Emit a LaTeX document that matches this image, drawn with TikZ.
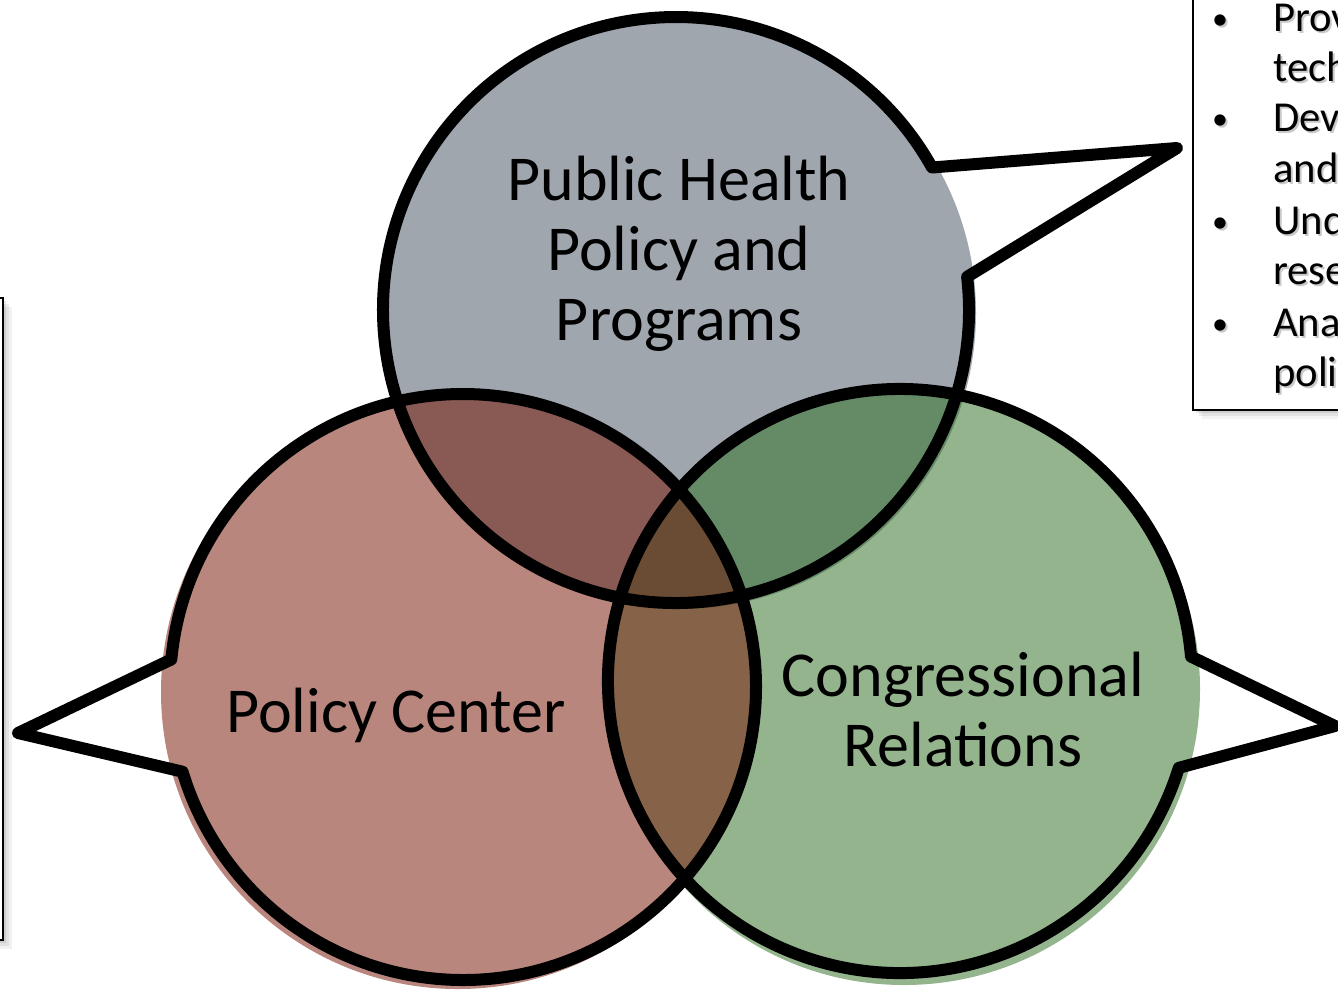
\documentclass[tikz,border=0pt]{standalone}
\usepackage{fontspec}
\setmainfont{Carlito}
\definecolor{cgray}{RGB}{159,166,174}
\definecolor{cred}{RGB}{185,134,126}
\definecolor{cgreen}{RGB}{148,180,142}
\definecolor{cRG}{RGB}{137,89,84}
\definecolor{cGN}{RGB}{100,138,102}
\definecolor{cRN}{RGB}{133,98,72}
\definecolor{cAll}{RGB}{106,76,52}
\tikzset{
  outline/.style={draw=black, line width=9pt, line join=round},
  biglabel/.style={font=\fontsize{48}{52}\selectfont, inner sep=0pt, anchor=base},
  boxtext/.style={font=\fontsize{32}{37}\selectfont, inner sep=0pt, anchor=base west},
  bullettext/.style={font=\fontsize{24}{28}\selectfont, inner sep=0pt, anchor=base},
  sidebox/.style={draw=black, line width=1.2pt, fill=white},
}
\begin{document}
\begin{tikzpicture}[x=0.75pt, y=-0.75pt]
\useasboundingbox (0,0) rectangle (1338,990);
% centres
\coordinate (G) at (676,310);
\coordinate (R) at (463,687);
\coordinate (N) at (900,681);
\coordinate (Gf) at (680,313);
\coordinate (Rf) at (458,692);
\coordinate (Nf) at (904,689);
% side boxes with soft shadows
\foreach \d/\o in {9/0.05,6/0.07,3/0.09}{
  \fill[black, opacity=\o] (1193+\d,-20) rectangle (1360,410+\d);
  \fill[black, opacity=\o] (-20,298+\d) rectangle (3+\d,940+\d);
}
\path[sidebox] (1193,-20) rectangle (1360,410);
\path[sidebox] (-20,298) rectangle (3,940);
% fills
\fill[cgray] (Gf) circle (296);
\fill[cred] (Rf) circle (297);
\fill[cgreen] (Nf) circle (296);
\begin{scope}
  \clip (Rf) circle (297);
  \fill[cRN] (Nf) circle (296);
\end{scope}
\begin{scope}
  \clip (Gf) circle (296);
  \fill[cRG] (Rf) circle (297);
  \fill[cGN] (Nf) circle (296);
  \clip (Rf) circle (297);
  \fill[cAll] (Nf) circle (296);
\end{scope}
% callout outlines
\coordinate (tipG) at (1177,148);
\coordinate (tipR) at (18,733);
\coordinate (tipN) at (1335,726);
\draw[outline] (G) ++(-6.5:293) arc[start angle=-6.5, end angle=330.9, radius=293] -- (tipG) -- cycle;
\draw[outline] (R) ++(185.4:293) arc[start angle=185.4, end angle=523.2, radius=293] -- (tipR) -- cycle;
\draw[outline] (N) ++(17.3:292) arc[start angle=17.3, end angle=355.2, radius=292] -- (tipN) -- cycle;
% labels
\node[biglabel] (g1) at (679,200) {Public Health};
\node[biglabel] (g2) at (679,270) {Policy and};
\node[biglabel] (g3) at (679,340) {Programs};
\node[biglabel] (r1) at (396,732) {Policy Center};
\node[biglabel] (n1) at (963,696) {Congressional};
\node[biglabel] (n2) at (963,766) {Relations};
% right box text
\foreach \y/\t [count=\i] in {31/Prov,81/tech,131/Dev,182/and,234/Und,284/rese,336/Ana,386/poli}{
  \node[boxtext, text=black!35, opacity=0.6] at (1275,\y+2) {\t};
  \node[boxtext] (bt\i) at (1273,\y) {\t};
}
\foreach \y [count=\i] in {29,129,232,334}{
  \node[bullettext, text=black!35, opacity=0.6] at (1222,\y+2) {•};
  \node[bullettext] (bu\i) at (1220,\y) {•};
}
\end{tikzpicture}
\end{document}
